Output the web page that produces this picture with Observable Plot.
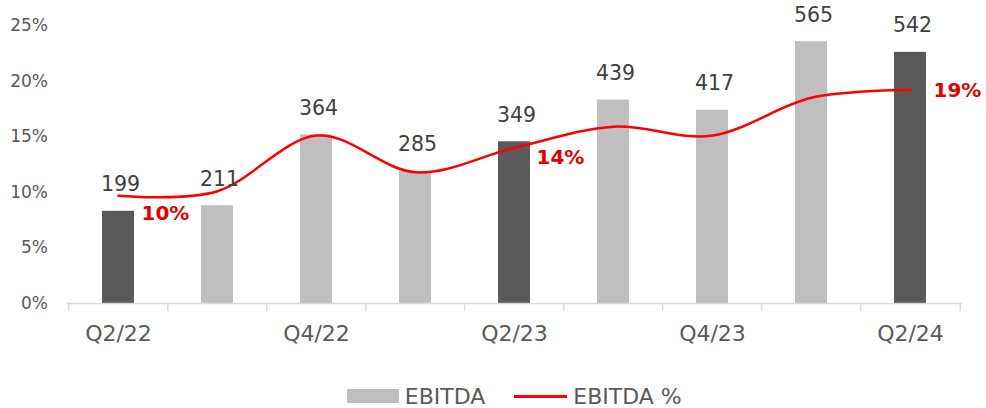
<!DOCTYPE html>
<html>
<head>
<meta charset="utf-8">
<script src="https://cdn.jsdelivr.net/npm/d3@7"></script>
<script src="https://cdn.jsdelivr.net/npm/@observablehq/plot@0.6"></script>
<style>
  html, body { margin: 0; padding: 0; background: #fff; }
  body { width: 986px; height: 408px; overflow: hidden; font-family: "DejaVu Sans", Verdana, sans-serif; }
  #chart svg { display: block; }
  .legend { display: flex; align-items: center; justify-content: center; height: 72px;
            padding-left: 66.5px; padding-right: 24px; box-sizing: border-box; width: 986px;
            font-size: 22px; color: #595959; }
  .sw-bar { width: 52px; height: 14px; background: #bfbfbf; margin-right: 6px; }
  .sw-line { width: 53px; height: 3px; background: #ff0000; margin-left: 29px; margin-right: 6px; }
</style>
</head>
<body>
<div id="chart"></div>
<div class="legend">
  <span class="sw-bar"></span><span>EBITDA</span>
  <span class="sw-line"></span><span>EBITDA %</span>
</div>
<script>
const quarters = ["Q2/22","Q3/22","Q4/22","Q1/23","Q2/23","Q3/23","Q4/23","Q1/24","Q2/24"];
const ebitda = [199, 211, 364, 285, 349, 439, 417, 565, 542];
const ebitdaPct = [9.7, 10.1, 15.1, 11.8, 14.0, 15.9, 15.1, 18.5, 19.2];
const highlighted = ["Q2/22", "Q2/23", "Q2/24"];
const yTicks = [0, 5, 10, 15, 20, 25];
const xTickLabels = ["Q2/22", "Q4/22", "Q2/23", "Q4/23", "Q2/24"];
const ebitdaAxisMax = 600; // secondary (hidden) axis max for the bars, aligned with 25%

const data = quarters.map((q, i) => ({ q, ebitda: ebitda[i], pct: ebitdaPct[i] }));
const barY = d => d.ebitda / ebitdaAxisMax * 25;

const W = 986, H = 360, ML = 66.5, MR = 24;
const step = (W - ML - MR) / quarters.length;

const chart = Plot.plot({
  width: W, height: H,
  marginLeft: ML, marginRight: MR, marginTop: 25, marginBottom: 57,
  x: { domain: quarters, paddingInner: 0.68, paddingOuter: 0.34, axis: null, label: null },
  y: { domain: [0, 25], axis: null, label: null },
  color: { type: "identity" },
  style: { fontFamily: "DejaVu Sans, Verdana, sans-serif", background: "#fff" },
  marks: [
    Plot.barY(data, { x: "q", y: barY, fill: d => highlighted.includes(d.q) ? "#595959" : "#bfbfbf" }),
    Plot.ruleY([0], { stroke: "#d9d9d9", strokeWidth: 1.3 }),
    Plot.axisX({ ticks: quarters, tickSize: 8, tickFormat: () => "", label: null, dx: -step / 2, stroke: "#d9d9d9", strokeWidth: 1.3 }),
    Plot.axisX({ ticks: [quarters[quarters.length - 1]], tickSize: 8, tickFormat: () => "", label: null, dx: step / 2, stroke: "#d9d9d9", strokeWidth: 1.3 }),
    Plot.line(data, { x: "q", y: "pct", stroke: "#ff0000", strokeWidth: 2.5, curve: "cardinal" }),
    Plot.text(data, { x: "q", y: barY, text: d => String(d.ebitda), lineAnchor: "bottom", dy: -20, dx: 2, fontSize: 20.5, fill: "#404040" }),
    Plot.text(data.filter(d => d.q === "Q2/22"), { x: "q", y: "pct", text: d => Math.round(d.pct) + "%", textAnchor: "start", dx: 23, dy: 18, fontSize: 20, fontWeight: "bold", fill: "#e00000" }),
    Plot.text(data.filter(d => d.q === "Q2/23"), { x: "q", y: "pct", text: d => Math.round(d.pct) + "%", textAnchor: "start", dx: 22, dy: 10, fontSize: 20, fontWeight: "bold", fill: "#e00000" }),
    Plot.text(data.filter(d => d.q === "Q2/24"), { x: "q", y: "pct", text: d => Math.round(d.pct) + "%", textAnchor: "start", dx: 23, dy: 1, fontSize: 20, fontWeight: "bold", fill: "#e00000" }),
    Plot.axisY({ ticks: yTicks, tickFormat: d => d + "%", label: null, tickSize: 0, tickPadding: 19, fontSize: 17, fill: "#595959" }),
    Plot.axisX({ ticks: xTickLabels, tickSize: 0, label: null, tickPadding: 22, fontSize: 22, fill: "#595959" })
  ]
});
document.getElementById("chart").appendChild(chart);
</script>
</body>
</html>
